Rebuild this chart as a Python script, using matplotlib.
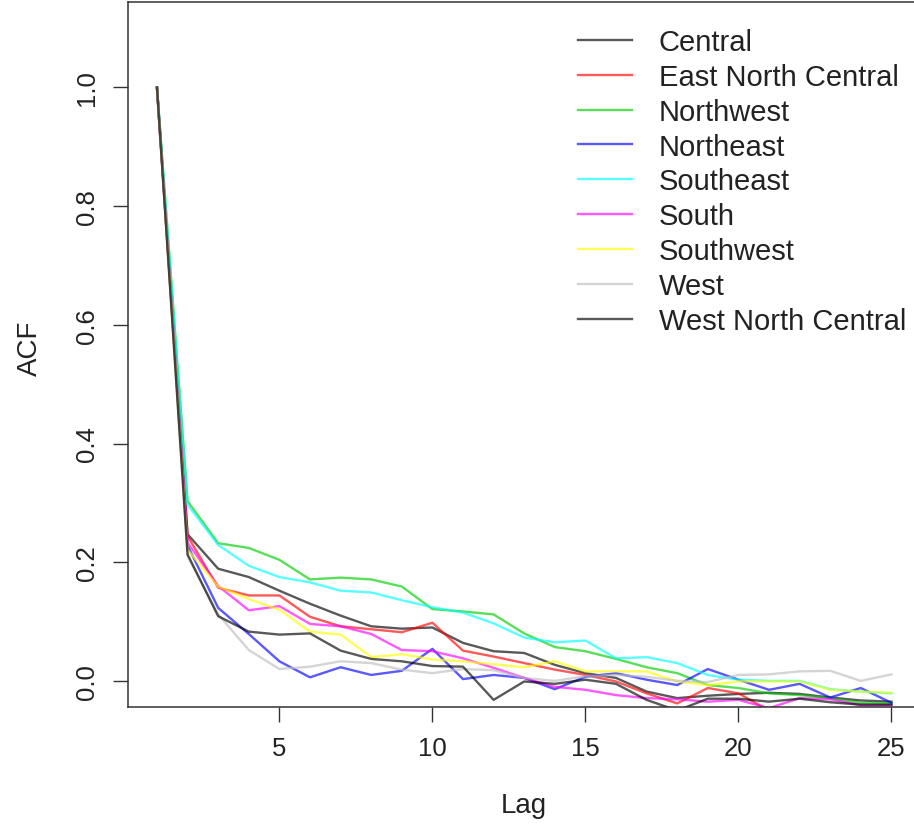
import matplotlib
matplotlib.use("Agg")
import matplotlib.pyplot as plt
import numpy as np

plt.rcParams['font.family'] = ['Liberation Sans', 'DejaVu Sans']

lags = list(range(1, 26))

regions = ["Central", "East North Central", "Northwest", "Northeast",
           "Southeast", "South", "Southwest", "West", "West North Central"]

central = [1.0, 0.247, 0.189, 0.175, 0.152, 0.130, 0.110, 0.092, 0.088, 0.090,
           0.064, 0.050, 0.047, 0.027, 0.013, 0.005, -0.018, -0.029, -0.025, -0.022,
           -0.020, -0.022, -0.028, -0.033, -0.035]
east_north_central = [1.0, 0.244, 0.157, 0.144, 0.144, 0.108, 0.092, 0.087, 0.082, 0.098,
                      0.051, 0.041, 0.030, 0.019, 0.010, -0.001, -0.021, -0.038, -0.012, -0.021,
                      -0.050, -0.055, -0.055, -0.060, -0.060]
northwest = [1.0, 0.303, 0.232, 0.224, 0.204, 0.171, 0.174, 0.171, 0.159, 0.121,
             0.117, 0.112, 0.080, 0.057, 0.050, 0.037, 0.023, 0.013, -0.007, -0.012,
             -0.021, -0.024, -0.029, -0.037, -0.038]
northeast = [1.0, 0.228, 0.123, 0.079, 0.033, 0.006, 0.023, 0.010, 0.017, 0.054,
             0.003, 0.010, 0.005, -0.014, 0.007, 0.013, 0.002, -0.007, 0.020, 0.002,
             -0.015, -0.005, -0.028, -0.012, -0.037]
southeast = [1.0, 0.297, 0.229, 0.194, 0.175, 0.166, 0.152, 0.149, 0.136, 0.124,
             0.115, 0.097, 0.073, 0.065, 0.068, 0.038, 0.040, 0.030, 0.010, 0.002,
             0.000, 0.000, -0.014, -0.018, -0.021]
south = [1.0, 0.233, 0.160, 0.119, 0.126, 0.096, 0.092, 0.079, 0.052, 0.050,
         0.038, 0.022, 0.005, -0.010, -0.015, -0.024, -0.029, -0.031, -0.035, -0.032,
         -0.046, -0.029, -0.031, -0.041, -0.041]
southwest = [1.0, 0.221, 0.159, 0.138, 0.120, 0.083, 0.078, 0.040, 0.045, 0.036,
             0.033, 0.028, 0.023, 0.033, 0.016, 0.016, 0.016, -0.001, -0.007, -0.001,
             -0.001, -0.001, -0.015, -0.018, -0.020]
west = [1.0, 0.210, 0.112, 0.052, 0.020, 0.024, 0.033, 0.030, 0.019, 0.013,
        0.020, 0.018, 0.005, 0.000, 0.008, 0.010, 0.007, 0.000, -0.002, 0.010,
        0.011, 0.016, 0.017, 0.000, 0.011]
west_north_central = [1.0, 0.213, 0.109, 0.083, 0.078, 0.080, 0.051, 0.037, 0.033, 0.025,
                      0.024, -0.032, -0.001, -0.005, 0.002, -0.005, -0.032, -0.050, -0.030, -0.030,
                      -0.035, -0.030, -0.036, -0.040, -0.040]

series = [central, east_north_central, northwest, northeast, southeast,
          south, southwest, west, west_north_central]
colors = ["black", "red", "#00CD00", "blue", "cyan", "magenta", "yellow",
          "#BEBEBE", "black"]

x_ticks = [5, 10, 15, 20, 25]
y_ticks = [0.0, 0.2, 0.4, 0.6, 0.8, 1.0]

W, H = 914, 829
fig = plt.figure(figsize=(W / 100, H / 100), dpi=100)
x0_px, x1_px = 127.6, 920.8
y_top_px, y_bot_px = 3, 708
ax = fig.add_axes([x0_px / W, (H - y_bot_px) / H,
                   (x1_px - x0_px) / W, (y_bot_px - y_top_px) / H])

for name, vals, col in zip(regions, series, colors):
    ax.plot(lags, vals, color=col, alpha=0.65, lw=1.7, label=name,
            solid_joinstyle='round')

ax.set_xlim(0.04, 25.96)
ax.set_ylim(-0.044, 1.144)

ax.set_xticks(x_ticks)
ax.set_xticklabels([str(t) for t in x_ticks])
ax.set_yticks(y_ticks)
ax.set_yticklabels([f"{t:.1f}" for t in y_ticks])
ax.tick_params(axis='both', direction='out', length=10.8, width=1.0,
               labelsize=18.5, colors='#333333', labelcolor='#222222')
ax.tick_params(axis='x', pad=10)
ax.tick_params(axis='y', pad=10)
for lab in ax.get_yticklabels():
    lab.set_rotation(90)
    lab.set_va('center')

for sp in ax.spines.values():
    sp.set_linewidth(1.1)
    sp.set_color('#333333')

ax.set_xlabel("Lag", fontsize=20, color='#222222')
ax.set_ylabel("ACF", fontsize=20, color='#222222')
ax.xaxis.set_label_coords(0.5, -(806 - y_bot_px) / (y_bot_px - y_top_px))
ax.xaxis.label.set_va('center')
ax.yaxis.set_label_coords(-(x0_px - 30) / (x1_px - x0_px), 0.51)
ax.yaxis.label.set_va('center')

leg = ax.legend(loc='upper left', bbox_to_anchor=(578 / W, 1 - 29 / H),
                bbox_transform=fig.transFigure, frameon=False, fontsize=21,
                handlelength=1.85, handletextpad=0.92, labelspacing=0.235,
                borderpad=0, borderaxespad=0)
for t in leg.get_texts():
    t.set_color('#222222')

fig.savefig("out.png", dpi=100)
